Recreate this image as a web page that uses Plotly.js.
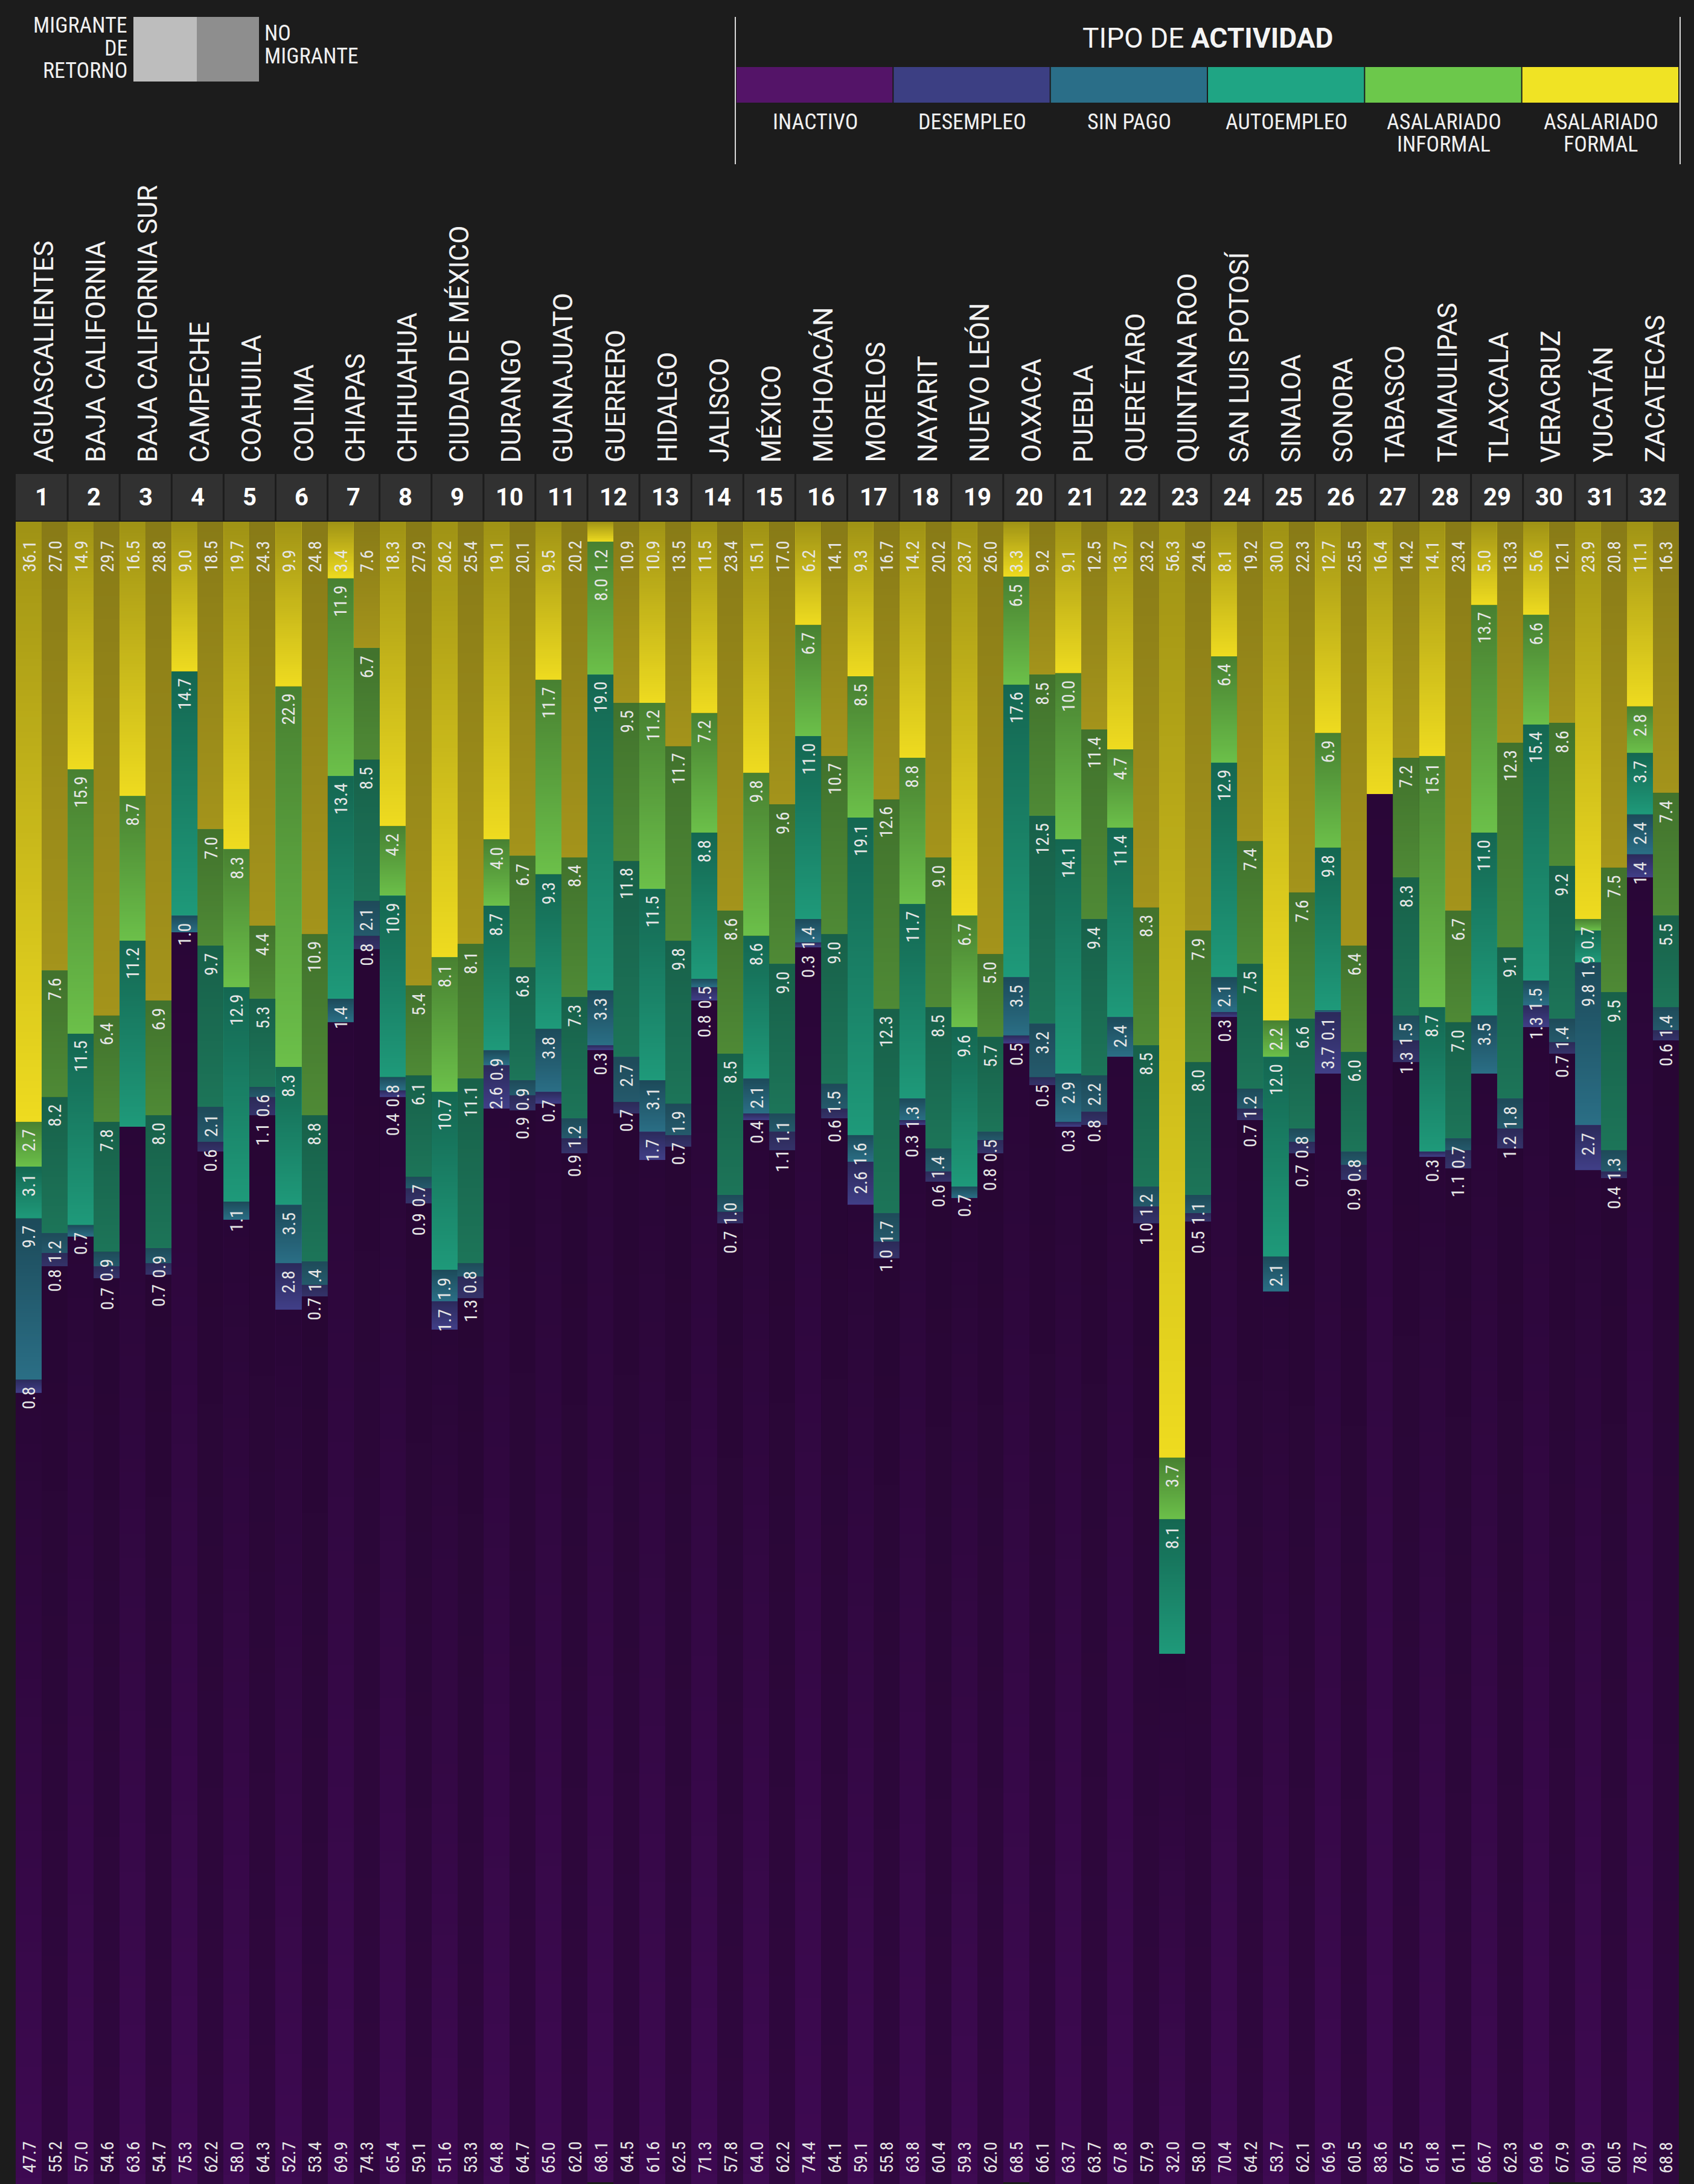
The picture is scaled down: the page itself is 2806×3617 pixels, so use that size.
<!DOCTYPE html>
<html>
<head>
<meta charset="utf-8">
<script src="https://cdn.plot.ly/plotly-3.0.1.min.js"></script>
<style>
html,body{margin:0;padding:0;background:#1c1c1c;}
#chart{width:2806px;height:3617px;}
</style>
</head>
<body>
<div id="chart"></div>
<script>
// ---------------- DATA ----------------
const states = ["AGUASCALIENTES","BAJA CALIFORNIA","BAJA CALIFORNIA SUR","CAMPECHE","COAHUILA","COLIMA","CHIAPAS","CHIHUAHUA","CIUDAD DE MÉXICO","DURANGO","GUANAJUATO","GUERRERO","HIDALGO","JALISCO","MÉXICO","MICHOACÁN","MORELOS","NAYARIT","NUEVO LEÓN","OAXACA","PUEBLA","QUERÉTARO","QUINTANA ROO","SAN LUIS POTOSÍ","SINALOA","SONORA","TABASCO","TAMAULIPAS","TLAXCALA","VERACRUZ","YUCATÁN","ZACATECAS"];
const groups = ["MIGRANTE DE RETORNO","NO MIGRANTE"];
const categories = ["ASALARIADO FORMAL","ASALARIADO INFORMAL","AUTOEMPLEO","SIN PAGO","DESEMPLEO","INACTIVO"];

// migrante de retorno
const formalM   = [36.1,14.9,16.5,9.0,19.7,9.9,3.4,18.3,26.2,19.1,9.5,1.2,10.9,11.5,15.1,6.2,9.3,14.2,23.7,3.3,9.1,13.7,56.3,8.1,30.0,12.7,16.4,14.1,5.0,5.6,23.9,11.1];
const informalM = [2.7,15.9,8.7,0,8.3,22.9,11.9,4.2,8.1,4.0,11.7,8.0,11.2,7.2,9.8,6.7,8.5,8.8,6.7,6.5,10.0,4.7,3.7,6.4,2.2,6.9,0,15.1,13.7,6.6,0.7,2.8];
const autoM     = [3.1,11.5,11.2,14.7,12.9,8.3,13.4,10.9,10.7,8.7,9.3,19.0,11.5,8.8,8.6,11.0,19.1,11.7,9.6,17.6,14.1,11.4,8.1,12.9,12.0,9.8,0,8.7,11.0,15.4,1.9,3.7];
const sinPagoM  = [9.7,0.7,0,1.0,1.1,3.5,1.4,0.8,1.9,0.9,3.8,3.3,3.1,0.5,2.1,1.4,1.6,1.3,0.7,3.5,2.9,2.4,0,2.1,2.1,0.1,0,0,3.5,1.5,9.8,2.4];
const desempM   = [0.8,0,0,0,0,2.8,0,0.4,1.7,2.6,0.7,0.3,1.7,0.8,0.4,0.3,2.6,0.3,0,0.5,0.3,0,0,0.3,0,3.7,0,0.3,0,1.3,2.7,1.4];
const inactM    = [47.7,57.0,63.6,75.3,58.0,52.7,69.9,65.4,51.6,64.8,65.0,68.1,61.6,71.3,64.0,74.4,59.1,63.8,59.3,68.5,63.7,67.8,32.0,70.4,53.7,66.9,83.6,61.8,66.7,69.6,60.9,78.7];

// no migrante
const formalN   = [27.0,29.7,28.8,18.5,24.3,24.8,7.6,27.9,25.4,20.1,20.2,10.9,13.5,23.4,17.0,14.1,16.7,20.2,26.0,9.2,12.5,23.2,24.6,19.2,22.3,25.5,14.2,23.4,13.3,12.1,20.8,16.3];
const informalN = [7.6,6.4,6.9,7.0,4.4,10.9,6.7,5.4,8.1,6.7,8.4,9.5,11.7,8.6,9.6,10.7,12.6,9.0,5.0,8.5,11.4,8.3,7.9,7.4,7.6,6.4,7.2,6.7,12.3,8.6,7.5,7.4];
const autoN     = [8.2,7.8,8.0,9.7,5.3,8.8,8.5,6.1,11.1,6.8,7.3,11.8,9.8,8.5,9.0,9.0,12.3,8.5,5.7,12.5,9.4,8.5,8.0,7.5,6.6,6.0,8.3,7.0,9.1,9.2,9.5,5.5];
const sinPagoN  = [1.2,0.9,0.9,2.1,0.6,1.4,2.1,0.7,0.8,0.9,1.2,2.7,1.9,1.0,1.1,1.5,1.7,1.4,0.5,3.2,2.2,1.2,1.1,1.2,0.8,0.8,1.5,0.7,1.8,1.4,1.3,1.4];
const desempN   = [0.8,0.7,0.7,0.6,1.1,0.7,0.8,0.9,1.3,0.9,0.9,0.7,0.7,0.7,1.1,0.6,1.0,0.6,0.8,0.5,0.8,1.0,0.5,0.7,0.7,0.9,1.3,1.1,1.2,0.7,0.4,0.6];
const inactN    = [55.2,54.6,54.7,62.2,64.3,53.4,74.3,59.1,53.3,64.7,62.0,64.5,62.5,57.8,62.2,64.1,55.8,60.4,62.0,66.1,63.7,57.9,58.0,64.2,62.1,60.5,67.5,61.1,62.3,67.9,60.5,68.8];

// ---------------- STYLE ----------------
const W = 2806, H = 3617;
const PL = 26, PR = 2781, PT = 864, PB = 3617;
const BG = "#1c1c1c";
const colM = ["#eedb20","#6cc04a","#1f9a7a","#2b6f86","#413f88","#3e0a52"];
const colN = ["#a4941c","#4f8a36","#1d7559","#255a6c","#35336a","#30083f"];
const swatch = ["#541468","#3c3f83","#2a6e88","#1fa584","#6cc84b","#f0e324"];
const legendLabels = [["INACTIVO"],["DESEMPLEO"],["SIN PAGO"],["AUTOEMPLEO"],["ASALARIADO","INFORMAL"],["ASALARIADO","FORMAL"]];
const condensed = "Roboto Condensed, DejaVu Sans Condensed, Liberation Sans Narrow, Roboto, sans-serif";
const LAB_SIZE = 30;

const px2x = p => (p - PL) / (PR - PL);
const py2y = p => (PB - p) / (PB - PT);

// ---------------- BUILD ----------------
const seriesM = [formalM, informalM, autoM, sinPagoM, desempM, inactM];
const seriesN = [formalN, informalN, autoN, sinPagoN, desempN, inactN];
const nBars = states.length * 2;
const xs = Array.from({length: nBars}, (_, i) => i);

const traces = categories.map((cat, c) => {
  const y = [], col = [];
  states.forEach((s, k) => {
    y.push(seriesM[c][k]); col.push(colM[c]);
    y.push(seriesN[c][k]); col.push(colN[c]);
  });
  return {type: "bar", name: cat, x: xs, y: y, width: 1,
    marker: {color: col, line: {width: 0}}, hoverinfo: "skip", textposition: "none"};
});

function gradURI(a) {
  const c = document.createElement("canvas"); c.width = 4; c.height = 256;
  const g = c.getContext("2d");
  const gr = g.createLinearGradient(0, 0, 0, 256);
  gr.addColorStop(0, "rgba(0,0,0," + a + ")");
  gr.addColorStop(1, "rgba(0,0,0,0)");
  g.fillStyle = gr; g.fillRect(0, 0, 4, 256);
  return c.toDataURL();
}
const gradStrong = gradURI(0.33), gradWeak = gradURI(0.17);

const measureCtx = document.createElement("canvas").getContext("2d");
measureCtx.font = LAB_SIZE + "px " + condensed;
const textLen = t => measureCtx.measureText(t).width + 4;

const annotations = [], images = [], shapes = [];
const labFont = {family: condensed, size: LAB_SIZE, color: "#e6e6e6"};
const pxPerUnit = (PB - PT) / 100;
const FORMAL_START = 86, TOP_OFF = 10, GAP = 6;

for (let i = 0; i < nBars; i++) {
  const k = Math.floor(i / 2), isM = i % 2 === 0;
  const vals = (isM ? seriesM : seriesN).map(s => s[k]);
  let cum = 0;
  let prevBottom = PT; // pixel bottom of the previous label
  vals.forEach((v, c) => {
    if (v > 0) {
      images.push({source: isM ? gradStrong : gradWeak, xref: "x", yref: "y", x: i - 0.5, y: cum,
        sizex: 1, sizey: v, sizing: "stretch", xanchor: "left", yanchor: "top", layer: "above"});
      const txt = v.toFixed(1);
      if (c === 0) {
        annotations.push({xref: "x", yref: "y", x: i, y: 0, yshift: -FORMAL_START, yanchor: "bottom", xanchor: "center",
          text: txt, textangle: -90, showarrow: false, font: labFont});
        prevBottom = PT + FORMAL_START;
      } else if (c === 5) {
        annotations.push({xref: "x", yref: "y", x: i, y: 100, yshift: 16, yanchor: "bottom", xanchor: "center",
          text: txt, textangle: -90, showarrow: false, font: labFont});
      } else {
        const segTop = PT + cum * pxPerUnit;
        const top = Math.max(segTop + TOP_OFF, prevBottom + GAP);
        prevBottom = top + textLen(txt);
        annotations.push({xref: "x", yref: "y", x: i, y: cum, yshift: -(top - segTop), yanchor: "top", xanchor: "center",
          text: txt, textangle: -90, showarrow: false, font: labFont});
      }
    }
    cum += v;
  });
}

// header band with state numbers and names
shapes.push({type: "rect", xref: "paper", yref: "paper", x0: 0, x1: 1, y0: py2y(862), y1: py2y(785),
  fillcolor: "#313131", line: {width: 0}, layer: "below"});
for (let k = 1; k < states.length; k++) {
  shapes.push({type: "line", xref: "x", yref: "paper", x0: 2 * k - 0.5, x1: 2 * k - 0.5, y0: py2y(862), y1: py2y(785),
    line: {color: BG, width: 3}});
}
states.forEach((s, k) => {
  annotations.push({xref: "x", yref: "paper", x: 2 * k + 0.5, y: py2y(824), yanchor: "middle", xanchor: "center",
    text: "<b>" + (k + 1) + "</b>", showarrow: false, font: {family: "Roboto, sans-serif", size: 40, color: "#ffffff"}});
  annotations.push({xref: "x", yref: "paper", x: 2 * k + 0.5, xshift: 4, y: py2y(768), yanchor: "bottom", xanchor: "center",
    text: s, textangle: -90, showarrow: false, font: {family: "Roboto, sans-serif", size: 44, color: "#f2f2f2"}});
});

// legend: migrant / non migrant
shapes.push({type: "rect", xref: "paper", yref: "paper", x0: px2x(221), x1: px2x(326), y0: py2y(135), y1: py2y(28),
  fillcolor: "#bdbdbd", line: {width: 0}});
shapes.push({type: "rect", xref: "paper", yref: "paper", x0: px2x(326), x1: px2x(429), y0: py2y(135), y1: py2y(28),
  fillcolor: "#8e8e8e", line: {width: 0}});
const legFont = {family: condensed, size: 36, color: "#f0f0f0"};
[["MIGRANTE", 42], ["DE", 80], ["RETORNO", 117]].forEach(([t, y]) => {
  annotations.push({xref: "paper", yref: "paper", x: px2x(213), y: py2y(y), xanchor: "right", yanchor: "middle",
    text: t, showarrow: false, font: legFont});
});
[["NO", 55], ["MIGRANTE", 93]].forEach(([t, y]) => {
  annotations.push({xref: "paper", yref: "paper", x: px2x(436), y: py2y(y), xanchor: "left", yanchor: "middle",
    text: t, showarrow: false, font: legFont});
});

// legend: activity type
[1218, 2783].forEach(xp => {
  shapes.push({type: "line", xref: "paper", yref: "paper", x0: px2x(xp), x1: px2x(xp), y0: py2y(272), y1: py2y(28),
    line: {color: "#d8d8d8", width: 2}});
});
annotations.push({xref: "paper", yref: "paper", x: px2x(2000), y: py2y(63), xanchor: "center", yanchor: "middle",
  text: "TIPO DE <b>ACTIVIDAD</b>", showarrow: false, font: {family: "Roboto, sans-serif", size: 46, color: "#f4f4f4"}});
const sw0 = 1220, swW = (2782 - 1220) / 6;
swatch.forEach((c, j) => {
  shapes.push({type: "rect", xref: "paper", yref: "paper", x0: px2x(sw0 + j * swW), x1: px2x(sw0 + (j + 1) * swW - 2),
    y0: py2y(170), y1: py2y(111), fillcolor: c, line: {width: 0}});
  legendLabels[j].forEach((t, li) => {
    annotations.push({xref: "paper", yref: "paper", x: px2x(sw0 + (j + 0.5) * swW), y: py2y(202 + li * 37),
      xanchor: "center", yanchor: "middle", text: t, showarrow: false, font: legFont});
  });
});

const layout = {
  width: W, height: H,
  paper_bgcolor: BG, plot_bgcolor: BG,
  margin: {l: PL, r: W - PR, t: PT, b: H - PB, autoexpand: false},
  barmode: "stack", bargap: 0, showlegend: false, hovermode: false,
  xaxis: {range: [-0.5, nBars - 0.5], visible: false, fixedrange: true},
  yaxis: {range: [100, 0], visible: false, fixedrange: true},
  annotations: annotations, shapes: shapes, images: images
};

Plotly.newPlot("chart", traces, layout, {staticPlot: true, displayModeBar: false});
</script>
</body>
</html>
